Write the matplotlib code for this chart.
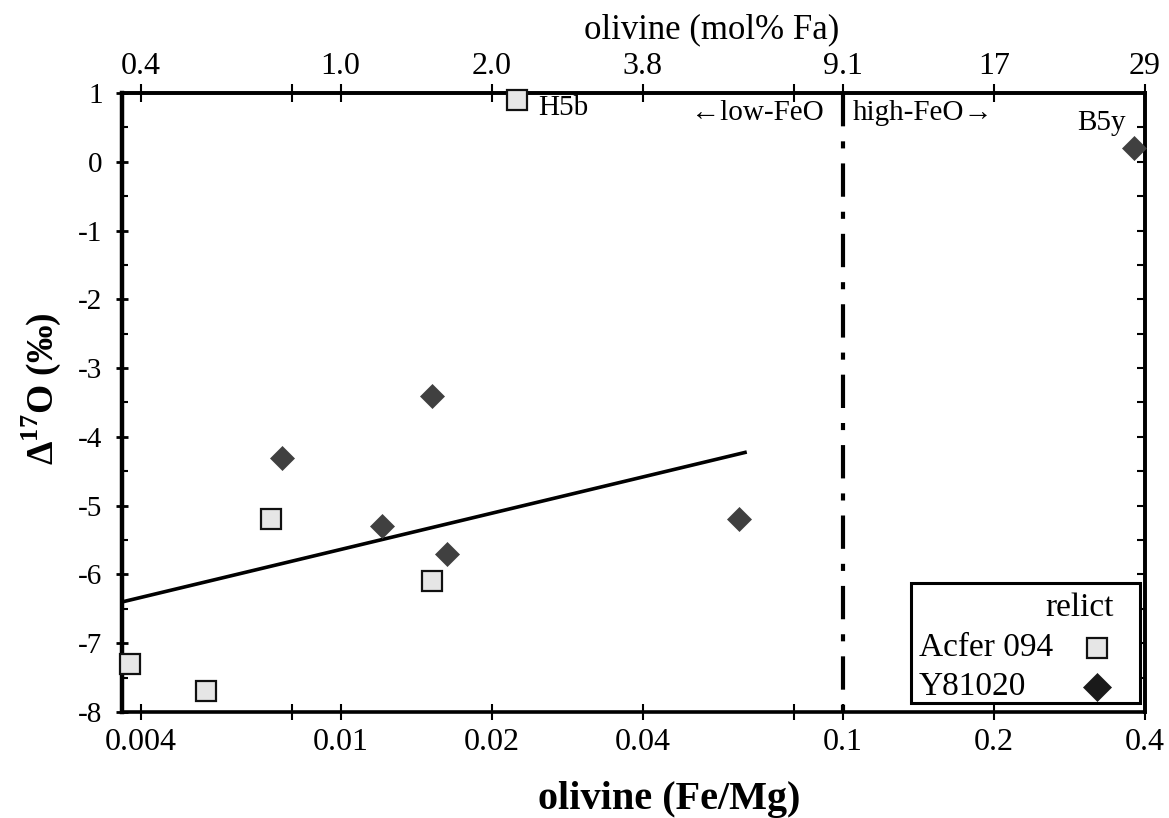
import numpy as np
import matplotlib.pyplot as plt
from matplotlib.patches import Rectangle
from matplotlib.ticker import NullLocator, MultipleLocator

plt.rcParams['font.family'] = ['Liberation Serif', 'DejaVu Serif']
plt.rcParams['mathtext.fontset'] = 'custom'
plt.rcParams['mathtext.rm'] = 'Liberation Serif'
plt.rcParams['mathtext.bf'] = 'Liberation Serif:bold'

# Acfer 094 relict grains (olivine Fe/Mg, D17O permil)
acfer_fe_mg = [0.0225, 0.00726, 0.0152, 0.0038, 0.0054]
acfer_d17o = [0.9, -5.2, -6.1, -7.3, -7.7]

# Y81020 relict grains
y81_fe_mg = [0.38, 0.0152, 0.00766, 0.0121, 0.0163, 0.0621]
y81_d17o = [0.2, -3.4, -4.3, -5.3, -5.7, -5.2]

# regression line end points
fit_fe_mg = [0.00367, 0.0644]
fit_d17o = [-6.40, -4.22]

feo_split = 0.1   # low-FeO / high-FeO boundary

x_ticks = [0.004, 0.008, 0.01, 0.02, 0.04, 0.08, 0.1, 0.2, 0.4]
x_labels = ['0.004', '', '0.01', '0.02', '0.04', '', '0.1', '0.2', '0.4']
fa_labels = ['0.4', '', '1.0', '2.0', '3.8', '', '9.1', '17', '29']
y_ticks = list(range(-8, 2))

sq_style = dict(marker='s', ms=14, mfc='#e6e6e6', mec='#111111', mew=1.6)
dm_style = dict(marker='D', ms=12.5, mfc='#404040', mec='#404040', mew=0.5)

fig = plt.figure(figsize=(11.69, 8.18), dpi=100)
ax = fig.add_axes([0.1044, 0.1296, 0.8751, 0.7567])

ax.set_xscale('log')
ax.set_xlim(0.00367, 0.4)
ax.set_ylim(-8, 1)

# data
ax.plot(fit_fe_mg, fit_d17o, color='black', lw=2.6, solid_capstyle='butt', zorder=2)
ax.plot([feo_split, feo_split], [1, 0], transform=ax.get_xaxis_transform(),
        color='black', lw=3, dashes=(8, 3.6, 1.7, 3.6), zorder=2)
ax.plot(acfer_fe_mg, acfer_d17o, ls='none', zorder=3, clip_on=False, **sq_style)
ax.plot(y81_fe_mg, y81_d17o, ls='none', zorder=3, clip_on=False, **dm_style)

ax.annotate('H5b', xy=(acfer_fe_mg[0], acfer_d17o[0]), xytext=(15, -6),
            textcoords='offset points', ha='left', va='center', fontsize=21)
ax.annotate('B5y', xy=(y81_fe_mg[0], y81_d17o[0]), xytext=(-6, 18),
            textcoords='offset points', ha='right', va='center', fontsize=21)
ax.annotate('\u2190low-FeO', xy=(feo_split, 0.968), xycoords=('data', 'axes fraction'),
            xytext=(-14, 0), textcoords='offset points', ha='right', va='center',
            fontsize=21)
ax.annotate('high-FeO\u2192', xy=(feo_split, 0.968), xycoords=('data', 'axes fraction'),
            xytext=(7, 0), textcoords='offset points', ha='left', va='center',
            fontsize=21)

# bottom axis
ax.set_xticks(x_ticks)
ax.set_xticklabels(x_labels)
ax.xaxis.set_minor_locator(NullLocator())
ax.tick_params(axis='x', which='major', direction='inout', length=11, width=1.5,
               labelsize=23, pad=6, top=False)
ax.set_xlabel('olivine (Fe/Mg)', fontsize=29, fontweight='bold')
ax.xaxis.set_label_coords(0.535, -0.112)

# left axis
ax.set_yticks(y_ticks)
ax.set_yticklabels([str(v) for v in y_ticks])
ax.yaxis.set_minor_locator(MultipleLocator(0.5))
ax.tick_params(axis='y', which='major', direction='inout', length=8, width=2,
               labelsize=21, pad=10, right=False)
ax.tick_params(axis='y', which='minor', direction='in', length=4, width=1.5, right=False)
ax.set_ylabel('\u0394$^{\\mathbf{17}}$O (\u2030)', fontsize=27, fontweight='bold')
ax.yaxis.set_label_coords(-0.058, 0.522)

# right axis: ticks only
ax_r = ax.secondary_yaxis('right')
ax_r.set_yticks(np.arange(-8, 1.5, 0.5))
ax_r.set_yticklabels([])
ax_r.tick_params(direction='in', length=6, width=1.5)

# top axis: olivine mol% Fa
ax_t = ax.secondary_xaxis('top')
ax_t.set_xticks(x_ticks)
ax_t.set_xticklabels(fa_labels)
ax_t.xaxis.set_minor_locator(NullLocator())
ax_t.tick_params(direction='inout', length=13, width=1.5, labelsize=23, pad=2)
ax_t.set_xlabel('olivine (mol% Fa)', fontsize=25, x=0.576, labelpad=10)

for sp in ax.spines.values():
    sp.set_linewidth(2.6)
ax.spines['left'].set_linewidth(3.2)
for sp in ax_r.spines.values():
    sp.set_linewidth(2.6)
for sp in ax_t.spines.values():
    sp.set_linewidth(2.6)

# legend: labels left, symbols right, title right-aligned
ax.add_patch(Rectangle((0.771, 0.0145), 0.224, 0.1935, transform=ax.transAxes,
                       facecolor='white', edgecolor='black', lw=2.2, zorder=5))
ax.text(0.969, 0.168, 'relict', transform=ax.transAxes, ha='right', va='center',
        fontsize=24, zorder=6)
leg_rows = [('Acfer 094', 0.103, dict(sq_style)),
            ('Y81020', 0.040, dict(dm_style, ms=14.5, mfc='#1a1a1a', mec='#1a1a1a'))]
for name, yy, style in leg_rows:
    ax.text(0.779, yy, name, transform=ax.transAxes, ha='left', va='center',
            fontsize=24, zorder=6)
    ax.plot([0.953], [yy], transform=ax.transAxes, ls='none', zorder=6, **style)

fig.savefig('out.png', dpi=100)
